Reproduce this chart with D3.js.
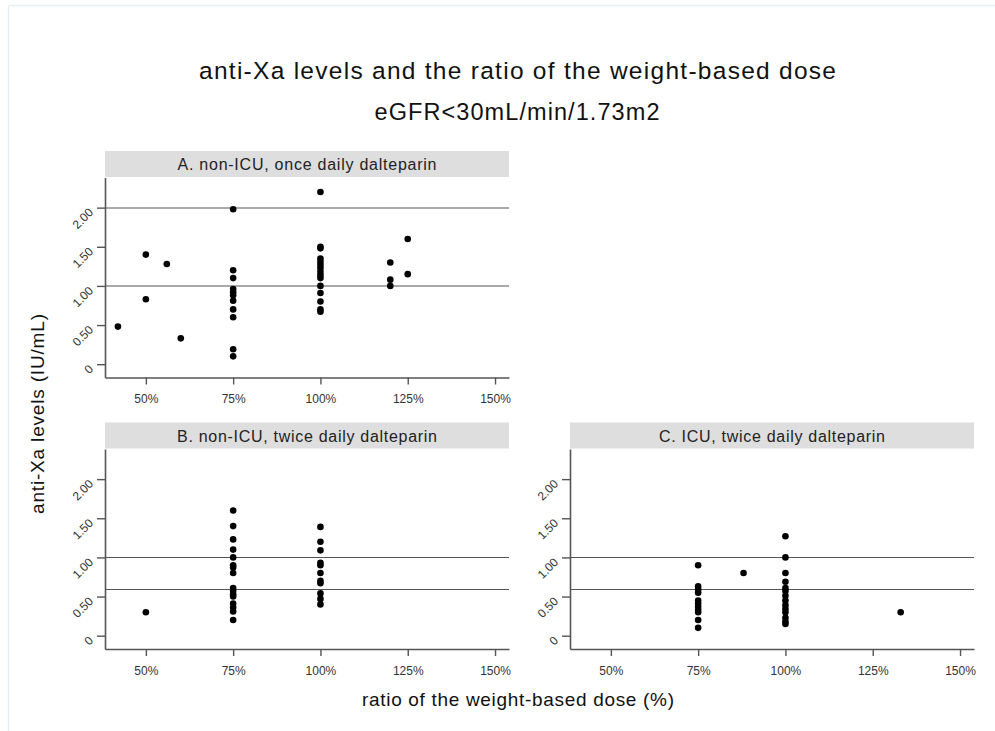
<!DOCTYPE html>
<html>
<head>
<meta charset="utf-8">
<script src="https://cdn.jsdelivr.net/npm/d3@7"></script>
<style>
  html, body { margin: 0; padding: 0; background: #fff; }
  svg { display: block; }
  text { font-family: "Liberation Sans", Arial, sans-serif; }
</style>
</head>
<body>
<svg id="chart" width="995" height="731"></svg>
<script>
// ---- data ----
const xTicks = [50, 75, 100, 125, 150];
const xTickLabels = ["50%", "75%", "100%", "125%", "150%"];
const yTicks = [0, 0.5, 1, 1.5, 2];
const yTickLabels = ["0", "0.50", "1.00", "1.50", "2.00"];

const panelTitles = ["A. non-ICU, once daily dalteparin", "B. non-ICU, twice daily dalteparin", "C. ICU, twice daily dalteparin"];
const refLinesA = [1.0, 2.0];
const refLinesB = [0.6, 1.0];
const refLinesC = [0.6, 1.0];

const doseA = [42, 50, 50, 56, 60,
  75, 75, 75, 75, 75, 75, 75, 75, 75, 75, 75,
  100, 100, 100, 100, 100, 100, 100, 100, 100, 100, 100, 100, 100, 100, 100,
  120, 120, 120, 125, 125];
const levelA = [0.48, 1.40, 0.83, 1.28, 0.33,
  1.98, 1.20, 1.10, 0.96, 0.92, 0.88, 0.81, 0.70, 0.60, 0.19, 0.10,
  2.20, 1.50, 1.48, 1.35, 1.31, 1.27, 1.23, 1.18, 1.14, 1.10, 1.00, 0.91, 0.80, 0.70, 0.67,
  1.30, 1.08, 1.00, 1.60, 1.15];

const doseB = [50,
  75, 75, 75, 75, 75, 75, 75, 75, 75, 75, 75, 75, 75, 75, 75, 75,
  100, 100, 100, 100, 100, 100, 100, 100, 100, 100, 100];
const levelB = [0.30,
  1.60, 1.40, 1.23, 1.10, 1.00, 0.90, 0.87, 0.80, 0.61, 0.57, 0.53, 0.50, 0.41, 0.36, 0.31, 0.20,
  1.39, 1.20, 1.09, 0.93, 0.90, 0.80, 0.70, 0.67, 0.54, 0.47, 0.40];

const doseC = [75, 75, 75, 75, 75, 75, 75, 75, 75, 75, 75,
  88,
  100, 100, 100, 100, 100, 100, 100, 100, 100, 100, 100, 100, 100, 100,
  133];
const levelC = [0.90, 0.63, 0.59, 0.55, 0.45, 0.41, 0.37, 0.33, 0.30, 0.20, 0.10,
  0.80,
  1.27, 1.00, 0.80, 0.69, 0.61, 0.57, 0.51, 0.45, 0.39, 0.34, 0.30, 0.23, 0.18, 0.15,
  0.30];

// ---- layout ----
const svg = d3.select("#chart");
const W = 995, H = 731;

// faint frame
svg.append("line").attr("x1", 8.5).attr("x2", 8.5).attr("y1", 5.5).attr("y2", H)
  .attr("stroke", "#e6edf3").attr("stroke-width", 1.5);
svg.append("line").attr("x1", 8.5).attr("x2", W).attr("y1", 5.5).attr("y2", 5.5)
  .attr("stroke", "#e6edf3").attr("stroke-width", 1.5);

svg.append("text").attr("x", 517.5).attr("y", 79).attr("text-anchor", "middle")
  .attr("font-size", 24.5).attr("fill", "#111")
  .attr("textLength", 637).attr("lengthAdjust", "spacing")
  .text("anti-Xa levels and the ratio of the weight-based dose");
svg.append("text").attr("x", 517).attr("y", 120).attr("text-anchor", "middle")
  .attr("font-size", 23.5).attr("fill", "#111")
  .attr("textLength", 285).attr("lengthAdjust", "spacing")
  .text("eGFR<30mL/min/1.73m2");
svg.append("text").attr("transform", "translate(44,414) rotate(-90)").attr("text-anchor", "middle")
  .attr("font-size", 19).attr("fill", "#111")
  .attr("textLength", 200).attr("lengthAdjust", "spacing")
  .text("anti-Xa levels (IU/mL)");
svg.append("text").attr("x", 518).attr("y", 706).attr("text-anchor", "middle")
  .attr("font-size", 19).attr("fill", "#111")
  .attr("textLength", 312).attr("lengthAdjust", "spacing")
  .text("ratio of the weight-based dose (%)");

const panels = [
  { title: panelTitles[0], x0: 105, y0: 177.5, dose: doseA, level: levelA, refs: refLinesA },
  { title: panelTitles[1], x0: 105, y0: 449, dose: doseB, level: levelB, refs: refLinesB },
  { title: panelTitles[2], x0: 570, y0: 449, dose: doseC, level: levelC, refs: refLinesC }
];
const pw = 404, ph = 200, stripH = 26;

panels.forEach(p => {
  const g = svg.append("g").attr("transform", `translate(${p.x0},${p.y0})`);
  const x = d3.scaleLinear().domain([38.3, 154]).range([0, pw]);
  const y = d3.scaleLinear().domain([-0.17, 2.385]).range([ph, 0]);

  // strip
  g.append("rect").attr("x", 0).attr("y", -stripH - 0.5).attr("width", pw).attr("height", stripH)
    .attr("fill", "#dedede");
  const tw = { "A": 259, "B": 260, "C": 226 }[p.title[0]];
  g.append("text").attr("x", pw / 2).attr("y", -7.5).attr("text-anchor", "middle")
    .attr("font-size", 16).attr("fill", "#222")
    .attr("textLength", tw).attr("lengthAdjust", "spacing").text(p.title);

  // reference lines
  g.selectAll("line.ref").data(p.refs).join("line").attr("class", "ref")
    .attr("x1", 0).attr("x2", pw)
    .attr("y1", d => Math.round(y(d)) + 0.5).attr("y2", d => Math.round(y(d)) + 0.5)
    .attr("stroke", "#555").attr("stroke-width", 1.2);

  // axes
  const xAxis = d3.axisBottom(x).tickValues(xTicks)
    .tickFormat((d, i) => xTickLabels[i]).tickSize(7).tickSizeOuter(0).tickPadding(10);
  const gx = g.append("g").attr("transform", `translate(0,${ph})`).call(xAxis);
  gx.select(".domain").attr("stroke", "#555").attr("stroke-width", 1.6);
  gx.selectAll(".tick line").attr("stroke", "#555").attr("stroke-width", 1.4);
  gx.selectAll(".tick text").attr("font-size", 12).attr("fill", "#333")
    .attr("font-family", "'Liberation Sans', Arial, sans-serif");

  const yAxis = d3.axisLeft(y).tickValues(yTicks)
    .tickFormat((d, i) => yTickLabels[i]).tickSize(8).tickSizeOuter(0).tickPadding(4);
  const gy = g.append("g").call(yAxis);
  gy.select(".domain").attr("stroke", "#555").attr("stroke-width", 1.6);
  gy.selectAll(".tick line").attr("stroke", "#555").attr("stroke-width", 1.4);
  gy.selectAll(".tick text").attr("font-size", 12).attr("fill", "#333")
    .attr("font-family", "'Liberation Sans', Arial, sans-serif")
    .attr("text-anchor", "end").attr("x", null).attr("dy", null)
    .attr("transform", "translate(-11,5) rotate(-45)");

  // points
  g.selectAll("circle").data(p.dose.map((d, i) => [d, p.level[i]])).join("circle")
    .attr("cx", d => x(d[0])).attr("cy", d => y(d[1])).attr("r", 3.3).attr("fill", "#000");
});
</script>
</body>
</html>
